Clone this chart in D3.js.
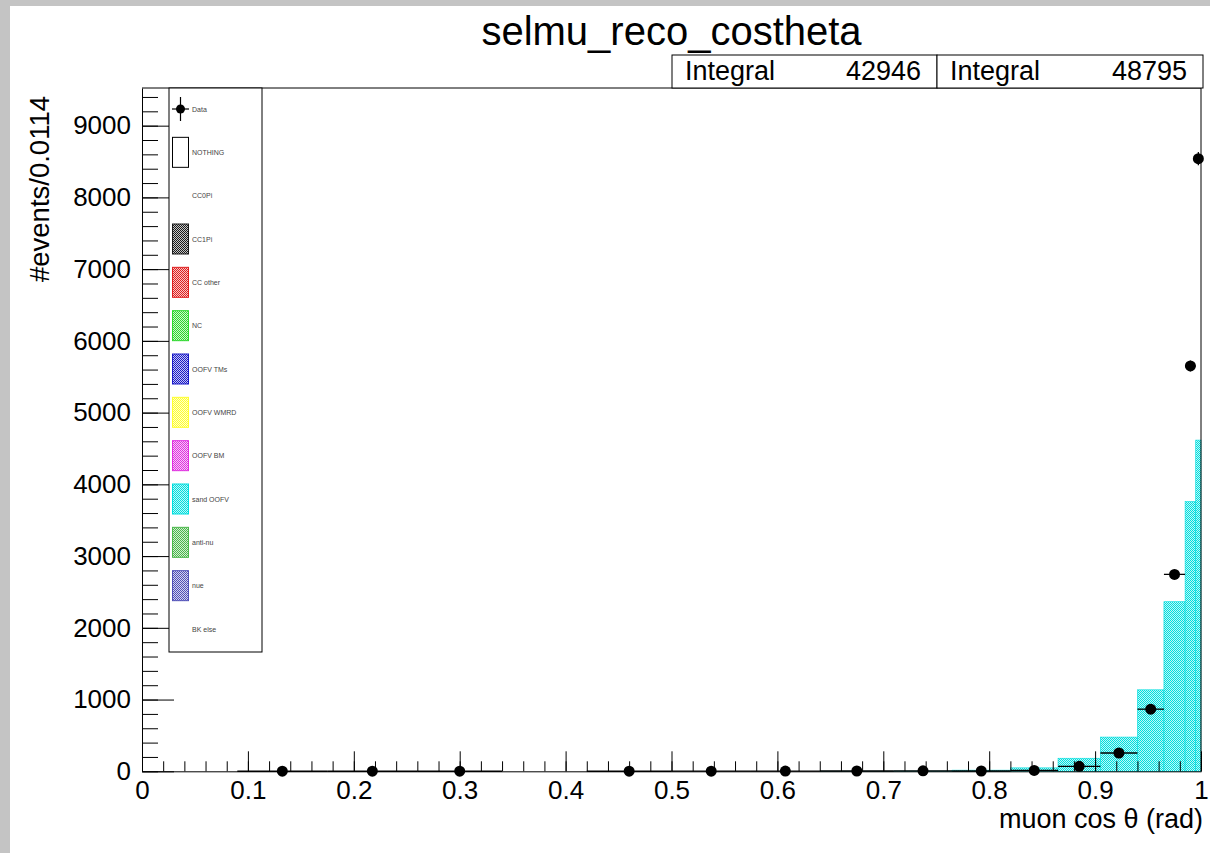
<!DOCTYPE html>
<html>
<head>
<meta charset="utf-8">
<script src="https://cdnjs.cloudflare.com/ajax/libs/d3/7.8.5/d3.min.js"></script>
<style>
  html, body { margin: 0; padding: 0; background: #ffffff; }
  svg { display: block; font-family: "Liberation Sans", Arial, Helvetica, sans-serif; }
</style>
</head>
<body>
<svg id="canvas" width="1210" height="853"></svg>
<script>
// ---- binning (variable-width bins in cos theta) ----
const binEdges = [0, 0.09, 0.175, 0.26, 0.34, 0.42, 0.50, 0.575, 0.64, 0.71, 0.765,
                  0.82, 0.865, 0.905, 0.94, 0.965, 0.985, 0.995, 1.0];

// ---- data counts per bin (empty bins are not drawn) ----
const dataValues = [0, 1, 1, 1, 0, 1, 2, 3, 4, 6, 4, 12, 70, 255, 866, 2745, 5650, 8540];
const dataErrors = [0, 1, 1, 1, 0, 1, 1.4, 1.7, 2, 2.4, 2, 3.5, 8.4, 16, 29, 52, 75, 92];

// ---- MC stack: only the sand OOFV component has entries ----
const mcSandOOFV = [0, 0, 0, 0, 0, 0, 0, 0, 1, 3, 16, 48, 182, 477, 1136, 2364, 3760, 4617];

// ---- axis ticks ----
const xMajorTicks = [0, 0.1, 0.2, 0.3, 0.4, 0.5, 0.6, 0.7, 0.8, 0.9, 1];
const xTickLabels = ["0", "0.1", "0.2", "0.3", "0.4", "0.5", "0.6", "0.7", "0.8", "0.9", "1"];
const yMajorTicks = [0, 1000, 2000, 3000, 4000, 5000, 6000, 7000, 8000, 9000];
const yTickLabels = ["0", "1000", "2000", "3000", "4000", "5000", "6000", "7000", "8000", "9000"];

// ---- legend ----
const legendLabels = ["Data", "NOTHING", "CC0Pi", "CC1Pi", "CC other", "NC", "OOFV TMs",
                      "OOFV WMRD", "OOFV BM", "sand OOFV", "anti-nu", "nue", "BK else"];
const legendColors = [null, "white", null, "#1a1a1a", "#e02020", "#2ed82e", "#1a1ac8",
                      "#ffff30", "#e030e0", "#00dede", "#4cb84c", "#5050b8", null];

const titleText = "selmu_reco_costheta";
const statsIntegrals = [42946, 48795];

// ---------------------------------------------------------------
const svg = d3.select("#canvas");
const W = 1210, H = 853;
const frame = { left: 142, right: 1201, top: 88, bottom: 771.3 };

const x = d3.scaleLinear().domain([0, 1]).range([frame.left, frame.right]);
const y = d3.scaleLinear().domain([0, 9525]).range([frame.bottom, frame.top]);

// canvas background with the grey window border
svg.append("rect").attr("width", W).attr("height", H).attr("fill", "#ffffff");
svg.append("rect").attr("x", 0).attr("y", 0).attr("width", W).attr("height", 6).attr("fill", "#c4c4c4");
svg.append("rect").attr("x", 0).attr("y", 0).attr("width", 10).attr("height", H).attr("fill", "#c4c4c4");

// checkered fill patterns for the stack components
const defs = svg.append("defs");
function lighten(c, k) {
  const col = d3.rgb(c);
  return d3.rgb(col.r + (255 - col.r) * k, col.g + (255 - col.g) * k, col.b + (255 - col.b) * k).toString();
}
legendColors.forEach((c, i) => {
  if (!c || c === "white") return;
  const p = defs.append("pattern").attr("id", "fill" + i)
    .attr("patternUnits", "userSpaceOnUse").attr("width", 2).attr("height", 2);
  p.append("rect").attr("width", 2).attr("height", 2).attr("fill", lighten(c, 0.75));
  p.append("rect").attr("width", 1).attr("height", 1).attr("fill", c);
  p.append("rect").attr("x", 1).attr("y", 1).attr("width", 1).attr("height", 1).attr("fill", c);
});
const sandIndex = legendLabels.indexOf("sand OOFV");

// ---- stacked MC histogram ----
const bins = mcSandOOFV.map((v, i) => ({ x0: binEdges[i], x1: binEdges[i + 1], v }));
svg.append("g").selectAll("rect").data(bins.filter(b => b.v > 0)).join("rect")
  .attr("x", d => x(d.x0))
  .attr("width", d => x(d.x1) - x(d.x0))
  .attr("y", d => y(d.v))
  .attr("height", d => y(0) - y(d.v))
  .attr("fill", "url(#fill" + sandIndex + ")")
  .attr("stroke", legendColors[sandIndex])
  .attr("stroke-width", 0.6);

// ---- frame (top and right edges) ----
svg.append("line").attr("x1", frame.left).attr("x2", frame.right)
  .attr("y1", frame.top).attr("y2", frame.top).attr("stroke", "#000").attr("stroke-width", 1);
svg.append("line").attr("x1", frame.right).attr("x2", frame.right)
  .attr("y1", frame.top).attr("y2", frame.bottom).attr("stroke", "#000").attr("stroke-width", 1);

// ---- x axis (ticks point into the frame) ----
const xMinor = d3.range(0, 51).map(i => i * 0.02);
svg.append("g").attr("transform", `translate(0,${frame.bottom})`)
  .call(d3.axisBottom(x).tickValues(xMinor).tickSize(-10).tickSizeOuter(0).tickFormat(""))
  .call(g => g.selectAll("line").attr("stroke", "#000"))
  .call(g => g.select(".domain").attr("stroke", "#000"));
svg.append("g").attr("class", "xaxis").attr("transform", `translate(0,${frame.bottom})`)
  .call(d3.axisBottom(x).tickValues(xMajorTicks).tickSize(-20).tickSizeOuter(0)
        .tickPadding(9).tickFormat((d, i) => xTickLabels[i]))
  .call(g => g.select(".domain").remove())
  .call(g => g.selectAll("line").attr("stroke", "#000"))
  .call(g => g.selectAll("text").attr("font-size", 26).attr("fill", "#000")
              .attr("font-family", "Liberation Sans, Arial, sans-serif"));

// ---- y axis ----
const yMinor = d3.range(0, 48).map(i => i * 200).filter(v => v <= 9525);
svg.append("g").attr("transform", `translate(${frame.left},0)`)
  .call(d3.axisLeft(y).tickValues(yMinor).tickSize(-16).tickSizeOuter(0).tickFormat(""))
  .call(g => g.selectAll("line").attr("stroke", "#000"))
  .call(g => g.select(".domain").attr("stroke", "#000"));
svg.append("g").attr("transform", `translate(${frame.left},0)`)
  .call(d3.axisLeft(y).tickValues(yMajorTicks).tickSize(-32).tickSizeOuter(0)
        .tickPadding(11).tickFormat((d, i) => yTickLabels[i]))
  .call(g => g.select(".domain").remove())
  .call(g => g.selectAll("line").attr("stroke", "#000"))
  .call(g => g.selectAll("text").attr("font-size", 26).attr("fill", "#000")
              .attr("font-family", "Liberation Sans, Arial, sans-serif"));

// ---- axis titles ----
svg.append("text").attr("x", 1203).attr("y", 828).attr("text-anchor", "end")
  .attr("font-size", 27).attr("fill", "#000").text("muon cos θ (rad)");
svg.append("text").attr("transform", "translate(49,96) rotate(-90)")
  .attr("text-anchor", "end").attr("font-size", 27.5).attr("fill", "#000")
  .text("#events/0.0114");

// ---- title ----
svg.append("text").attr("x", 671.5).attr("y", 45).attr("text-anchor", "middle")
  .attr("font-size", 40).attr("fill", "#000").text(titleText);

// ---- stats boxes ----
const statsX = [672, 937, 1203];
statsIntegrals.forEach((v, i) => {
  const g = svg.append("g");
  g.append("rect").attr("x", statsX[i]).attr("y", 55)
    .attr("width", statsX[i + 1] - statsX[i]).attr("height", frame.top - 55)
    .attr("fill", "#fff").attr("stroke", "#000").attr("stroke-width", 1);
  g.append("text").attr("x", statsX[i] + 13).attr("y", 80)
    .attr("font-size", 27).attr("fill", "#000").text("Integral");
  g.append("text").attr("x", statsX[i + 1] - 16).attr("y", 80).attr("text-anchor", "end")
    .attr("font-size", 27).attr("fill", "#000").text(v);
});

// ---- data points with error bars ----
const points = dataValues.map((v, i) => ({
  x0: binEdges[i], x1: binEdges[i + 1], c: (binEdges[i] + binEdges[i + 1]) / 2, v, e: dataErrors[i]
})).filter(d => d.v > 0);
const pg = svg.append("g");
pg.selectAll("line.h").data(points).join("line").attr("class", "h")
  .attr("x1", d => x(d.x0)).attr("x2", d => x(d.x1))
  .attr("y1", d => y(d.v)).attr("y2", d => y(d.v))
  .attr("stroke", "#000").attr("stroke-width", 1.3);
pg.selectAll("line.v").data(points).join("line").attr("class", "v")
  .attr("x1", d => x(d.c)).attr("x2", d => x(d.c))
  .attr("y1", d => y(d.v + d.e)).attr("y2", d => y(Math.max(0, d.v - d.e)))
  .attr("stroke", "#000").attr("stroke-width", 1.3);
pg.selectAll("circle").data(points).join("circle")
  .attr("cx", d => x(d.c)).attr("cy", d => y(d.v)).attr("r", 5.5).attr("fill", "#000");

// ---- legend ----
const leg = svg.append("g");
leg.append("rect").attr("x", 169).attr("y", frame.top).attr("width", 93).attr("height", 652 - frame.top)
  .attr("fill", "#fff").attr("stroke", "#000").attr("stroke-width", 1);
const rowY = d3.scalePoint().domain(legendLabels).range([109, 629]);
legendLabels.forEach((lab, i) => {
  const cy = rowY(lab);
  if (i === 0) {
    leg.append("line").attr("x1", 172).attr("x2", 189).attr("y1", cy).attr("y2", cy)
      .attr("stroke", "#000").attr("stroke-width", 1.2);
    leg.append("line").attr("x1", 180.5).attr("x2", 180.5).attr("y1", cy - 12).attr("y2", cy + 12)
      .attr("stroke", "#000").attr("stroke-width", 1.2);
    leg.append("circle").attr("cx", 180.5).attr("cy", cy).attr("r", 4.5).attr("fill", "#000");
  } else if (legendColors[i]) {
    const c = legendColors[i];
    leg.append("rect").attr("x", 172.5).attr("y", cy - 15).attr("width", 16).attr("height", 30)
      .attr("fill", c === "white" ? "#fff" : "url(#fill" + i + ")")
      .attr("stroke", c === "white" ? "#000" : c).attr("stroke-width", 1);
  }
  leg.append("text").attr("x", 192).attr("y", cy + 2.5)
    .attr("font-size", 7).attr("fill", "#444").text(lab);
});
</script>
</body>
</html>
